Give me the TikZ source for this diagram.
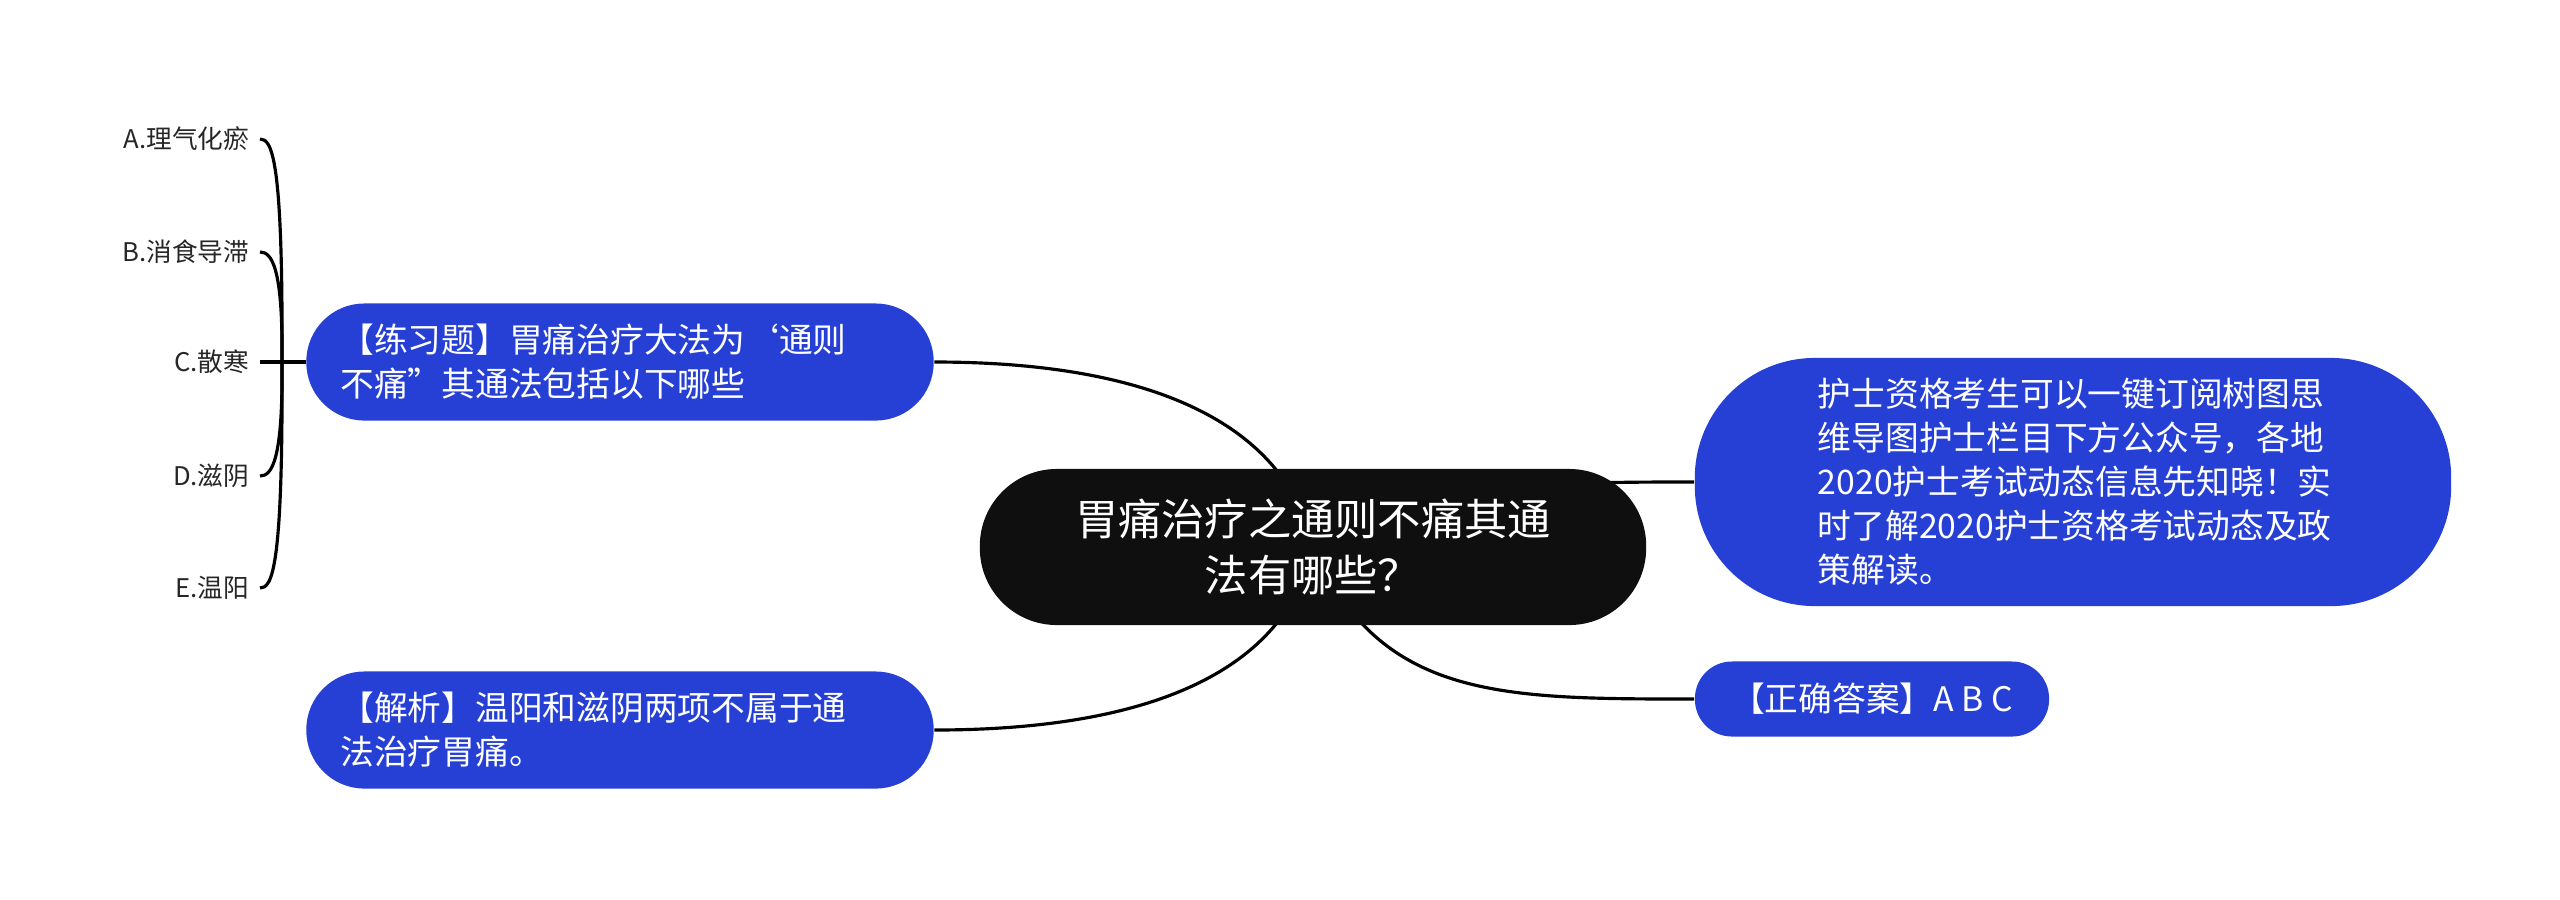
\documentclass[tikz,border=0pt]{standalone}
\usepackage{fontspec}
\setmainfont{Noto Sans CJK SC}
\usetikzlibrary{backgrounds}
\definecolor{nodeblue}{RGB}{38,64,214}
\definecolor{rootblack}{RGB}{15,15,15}
\begin{document}
\begin{tikzpicture}[x=0.01cm,y=-0.01cm,
  conn/.style={line width=0.9pt, draw=black},
  bluebox/.style={fill=nodeblue, text=white, inner xsep=0pt, inner ysep=0pt,
    font=\fontsize{9.6pt}{12.5pt}\selectfont},
  leaf/.style={anchor=east, inner xsep=0.1cm, inner ysep=0pt,
    font=\fontsize{7.3pt}{9pt}\selectfont, text=black!85}]
\useasboundingbox (0,0) rectangle (2560,899);

\node[fill=rootblack, text=white, rounded corners=0.77cm, minimum width=6.66cm,
  minimum height=1.56cm, align=center, inner sep=0pt,
  font=\fontsize{12.3pt}{15.8pt}\selectfont] (root) at (1313,547)
  {胃痛治疗之通则不痛其通\\法有哪些？};

\node[bluebox, rounded corners=0.58cm, minimum width=6.27cm, minimum height=1.17cm,
  text width=5.59cm, align=left] (tl) at (620,362)
  {【练习题】胃痛治疗大法为\makebox[1em][r]{‘}通则\\不痛\makebox[1em][l]{”}其通法包括以下哪些};

\node[bluebox, rounded corners=0.58cm, minimum width=6.27cm, minimum height=1.17cm,
  text width=5.59cm, align=left] (bl) at (620,730)
  {【解析】温阳和滋阴两项不属于通\\法治疗胃痛。};

\node[bluebox, rounded corners=1.2cm, minimum width=7.56cm, minimum height=2.48cm,
  text width=5.1cm, align=left] (rb) at (2073,482)
  {护士资格考生可以一键订阅树图思\\维导图护士栏目下方公众号，各地\\2020护士考试动态信息先知晓！实\\时了解2020护士资格考试动态及政\\策解读。};

\node[bluebox, rounded corners=0.37cm, minimum width=3.54cm, minimum height=0.75cm]
  (abc) at (1872,699) {【正确答案】A B C};

\node[leaf] (la) at (260,139) {A.理气化瘀};
\node[leaf] (lb) at (260,252) {B.消食导滞};
\node[leaf] (lc) at (260,362) {C.散寒};
\node[leaf] (ld) at (260,476) {D.滋阴};
\node[leaf] (le) at (260,588) {E.温阳};
\coordinate (j) at (282,362);

\begin{scope}[on background layer]
\draw[conn] (tl.east) .. controls (1180,362) and (1290,440) .. (root.center);
\draw[conn] (bl.east) .. controls (1180,730) and (1290,654) .. (root.center);
\draw[conn] (root.center) .. controls (1450,482) and (1550,482) .. (rb.west);
\draw[conn] (root.center) .. controls (1380,699) and (1500,699) .. (abc.west);
\end{scope}

\draw[conn] (tl.west) -- (lc.east);
\draw[conn] (j) .. controls (283,158) and (272,139) .. (la.east);
\draw[conn] (j) .. controls (283,268) and (272,252) .. (lb.east);
\draw[conn] (j) .. controls (283,460) and (272,476) .. (ld.east);
\draw[conn] (j) .. controls (283,570) and (272,588) .. (le.east);
\end{tikzpicture}
\end{document}
